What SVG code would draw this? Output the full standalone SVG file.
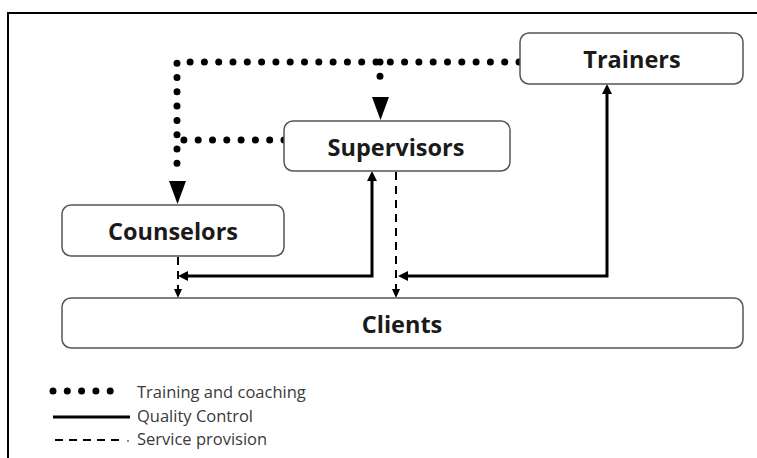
<svg xmlns="http://www.w3.org/2000/svg" width="757" height="458" viewBox="0 0 757 458">
<style>
.box{fill:#fff;stroke:#555;stroke-width:1.5}
.lbl{font-family:"Open Sans","Liberation Sans",sans-serif;font-weight:bold;font-size:23.5px;fill:#1a1a1a;text-anchor:middle}
.leg{font-family:"Open Sans","Liberation Sans",sans-serif;font-size:16.5px;fill:#3a3a3a}
.dot{fill:none;stroke:#000;stroke-width:7;stroke-linecap:round;stroke-dasharray:0 14.3}
.solid{fill:none;stroke:#000;stroke-width:3}
.dash{fill:none;stroke:#000;stroke-width:2;stroke-dasharray:8 6}
</style>
<rect width="757" height="458" fill="#fff"/>
<path d="M8,458 V13 H757" fill="none" stroke="#000" stroke-width="2"/>
<g id="connectors">
<path class="dot" d="M519,62 H177 V172"/>
<path class="dot" d="M380,62 V90"/>
<path class="dot" d="M284,140 H177"/>
<polygon points="169,181 186,181 177.5,204" fill="#000"/>
<polygon points="372,97 389,97 380.5,120" fill="#000"/>
<path class="solid" d="M372,180 V276 H186"/>
<polygon points="178,276 188,271 188,281" fill="#000"/>
<polygon points="372,171 367,181 377,181" fill="#000"/>
<path class="solid" d="M607,93 V276 H406"/>
<polygon points="398,276 408,271 408,281" fill="#000"/>
<polygon points="607,84 602,94 612,94" fill="#000"/>
<path class="dash" d="M178,257 V290"/>
<polygon points="178,298 174,289 182,289" fill="#000"/>
<path class="dash" d="M396,172 V290"/>
<polygon points="396,298 392,289 400,289" fill="#000"/>
</g>
<g id="trainers"><rect class="box" x="520" y="33" width="223" height="51" rx="9"/><text class="lbl" x="632" y="68">Trainers</text></g>
<g id="supervisors"><rect class="box" x="284" y="121" width="226" height="50" rx="9"/><text class="lbl" x="396" y="156">Supervisors</text></g>
<g id="counselors"><rect class="box" x="62" y="205" width="222" height="51" rx="9"/><text class="lbl" x="173" y="240">Counselors</text></g>
<g id="clients"><rect class="box" x="62" y="298" width="681" height="50" rx="9"/><text class="lbl" x="402" y="333">Clients</text></g>
<g id="legend">
<path class="dot" d="M53,391 H117" stroke-dasharray="0 16"/>
<text class="leg" x="137" y="398">Training and coaching</text>
<path d="M53,417 H130" stroke="#000" stroke-width="3"/>
<text class="leg" x="137" y="422">Quality Control</text>
<path d="M55,440 H122" stroke="#000" stroke-width="2" stroke-dasharray="8 6"/>
<circle cx="128" cy="441" r="0.8" fill="#000"/>
<text class="leg" x="137" y="445">Service provision</text>
</g>
</svg>
